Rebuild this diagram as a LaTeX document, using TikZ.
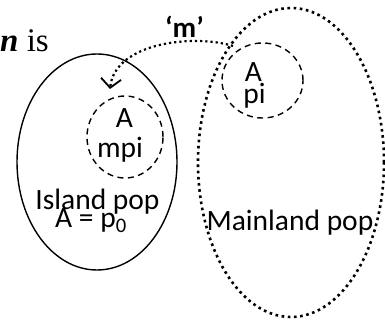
\documentclass[tikz,border=0pt]{standalone}
\usepackage{fontspec}
\setmainfont{Carlito}
\newfontfamily\timesf{Liberation Serif}
\usetikzlibrary{shapes.geometric,arrows.meta}
\begin{document}
\begin{tikzpicture}[x=1pt,y=-1pt,
  lbl/.style={font=\fontsize{29.5}{32}\selectfont, inner sep=0pt, anchor=base},
  popline/.style={ellipse, draw, line width=1.4pt, inner sep=0pt},
  subpop/.style={ellipse, draw, line width=1.4pt, dash pattern=on 6pt off 4.5pt, inner sep=0pt},
  migr/.style={line width=2.2pt, dash pattern=on 2.2pt off 3pt, -{Straight Barb[length=9pt,width=20pt,line width=1.8pt]}}
]
\useasboundingbox (0,0) rectangle (385,320);
% populations
\node[popline, minimum width=160pt, minimum height=216pt] (island) at (97,162) {};
\node[ellipse, draw, inner sep=0pt, line width=2.6pt, dash pattern=on 2.6pt off 3.6pt,
      minimum width=186pt, minimum height=309pt] (mainland) at (291,162.5) {};
% subpopulations
\node[subpop, minimum width=76pt, minimum height=82pt] (mpic) at (125,137) {};
\node[subpop, minimum width=81pt, minimum height=75pt] (pic) at (262.5,80.5) {};
% texts
\node[lbl] (ta1) at (124.5,128) {A};
\node[lbl] (tmpi) at (120,158) {mpi};
\node[lbl] (ta2) at (253.5,82) {A};
\node[lbl] (tpi) at (254.5,104) {pi};
\node[lbl] (tisl) at (97.5,210) {Island pop};
\node[lbl, anchor=base west] (tap) at (55,228) {A = p\textsubscript{0}};
\node[lbl] (tmain) at (290,230) {Mainland pop};
\node[lbl, font=\fontsize{29}{32}\selectfont\bfseries] (tm) at (184.5,38) {‘m’};
\node[inner sep=0pt, anchor=base east, font=\fontsize{33}{36}\selectfont\timesf] (tnis) at (49,52) {\textbf{\textit{n}} is};
% migration arrow
\coordinate (mstart) at (233,46);
\coordinate (mend) at (110,89);
\draw[migr] (mstart) .. controls (195,34) and (115,42) .. (mend);
\end{tikzpicture}
\end{document}
